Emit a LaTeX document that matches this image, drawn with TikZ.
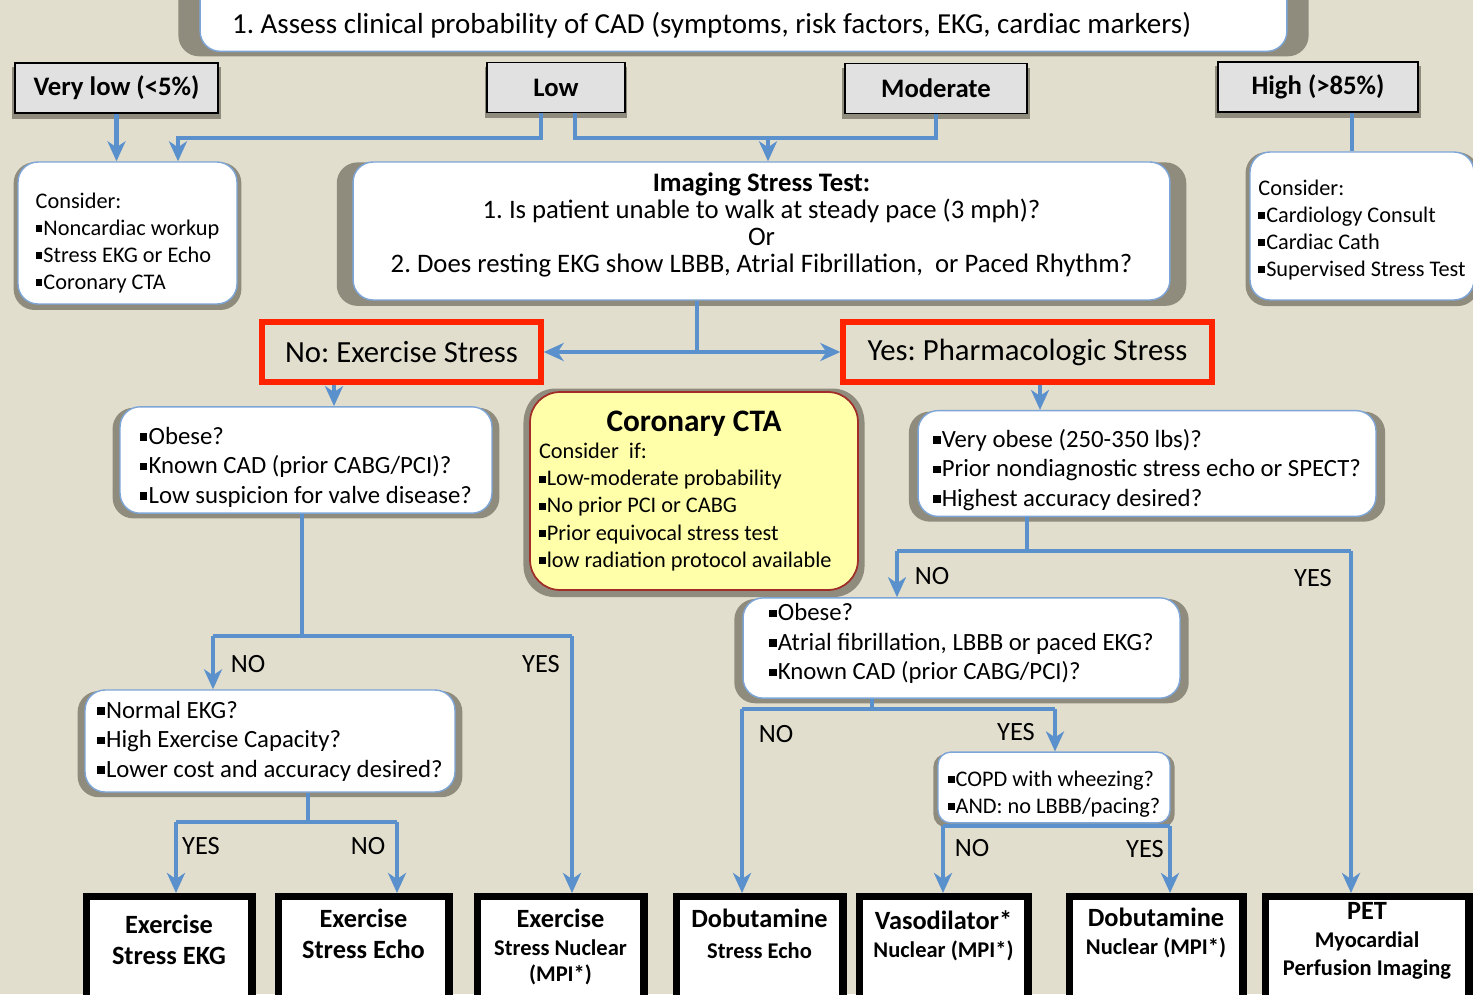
\documentclass[tikz,border=0pt]{standalone}
\usepackage{fontspec}
\setmainfont{Carlito}
\usetikzlibrary{arrows.meta,shadows}
\definecolor{bg}{RGB}{225,222,205}
\definecolor{flowblue}{RGB}{90,145,205}
\definecolor{boxedge}{RGB}{125,165,215}
\definecolor{shade}{RGB}{143,140,126}
\definecolor{catgray}{RGB}{225,225,225}
\definecolor{alertred}{RGB}{255,35,0}
\definecolor{ctayellow}{RGB}{255,255,170}
\definecolor{ctaedge}{RGB}{160,45,40}
\newcommand{\bul}{\rule[0.3ex]{0.3em}{0.3em}\kern0.05em}
\newcommand{\subl}{\fontsize{12.8}{16}\selectfont}
\frenchspacing

\begin{document}
\begin{tikzpicture}[x=0.02cm,y=-0.02cm]
  \useasboundingbox (0,0) rectangle (1473,994);
  \fill [bg] (0,0) rectangle (1473,994);  % Hintergrund
  \tikzstyle{box}=[rectangle, rounded corners=0.4cm, draw=boxedge, line width=0.8pt, fill=white, align=left, general shadow={fill=shade, shadow scale=1.04, shadow yshift=-0.06cm}]
  \tikzstyle{level}=[rectangle, draw=black, line width=0.9pt, fill=catgray, minimum height=1cm, font=\bfseries\fontsize{15.2}{18}\selectfont, general shadow={fill=shade, shadow scale=1.03, shadow yshift=-0.1cm}]
  \tikzstyle{alert}=[rectangle, draw=alertred, line width=3.1pt, minimum height=1.2cm, font=\fontsize{17.5}{20}\selectfont]
  \tikzstyle{result}=[rectangle, draw=black, line width=4pt, fill=white, anchor=north, align=center, text depth=1.6cm, inner ysep=0.25cm, font=\bfseries\fontsize{15}{17.6}\selectfont]
  \tikzstyle{mixed}=[font=\bfseries\fontsize{15}{16}\selectfont]
  \tikzstyle{lbl}=[inner sep=0pt, font=\fontsize{15}{18}\selectfont]
  \tikzstyle{cons}=[font=\fontsize{12.7}{15.4}\selectfont]
  \tikzstyle{quest}=[font=\fontsize{14.1}{16.8}\selectfont]
  \tikzstyle{link}=[draw=flowblue, line width=2.3pt]
  \tikzstyle{flow}=[link, -{Stealth[length=0.4cm, width=0.36cm, inset=0.12cm]}]

  % Wahrscheinlichkeit
  \node[box, align=flush left, anchor=south, minimum width=21.74cm, text width=20.46cm, text height=1.4cm, text depth=0.2cm, inner xsep=0pt, inner ysep=0.16cm, font=\fontsize{16.5}{19}\selectfont] (assess) at (743.5,52)
    {1. Assess clinical probability of CAD (symptoms, risk factors, EKG, cardiac markers)};
  \node[level, minimum width=4.06cm] (verylow)  at (116.5,88) {Very low (<5\%)};
  \node[level, minimum width=2.76cm] (low)      at (556,87.5) {Low};
  \node[level, minimum width=3.64cm] (moderate) at (936,88.5) {Moderate};
  \node[level, minimum width=4.0cm]  (high)     at (1318,87)  {High (>85\%)};

  \node[box, cons, minimum width=4.38cm, minimum height=2.84cm] (vlcons) at (127.5,233)
    {\rule{0pt}{20pt}Consider:\\\bul Noncardiac workup\\\bul Stress EKG or Echo\\\bul Coronary CTA};
  \node[box, align=center, minimum width=16.34cm, minimum height=2.76cm, font=\fontsize{15.2}{15.5}\selectfont] (imaging) at (761.5,231)
    {\textbf{Imaging Stress Test:}\\1. Is patient unable to walk at steady pace (3 mph)?\\Or\\2. Does resting EKG show LBBB, Atrial Fibrillation,\ \ or Paced Rhythm?\rule[-9.5pt]{0pt}{0pt}};
  \node[box, cons, minimum width=4.48cm, minimum height=2.96cm] (highcons) at (1362,226)
    {\rule{0pt}{13pt}Consider:\\\bul Cardiology Consult\\\bul Cardiac Cath\\\bul Supervised Stress Test};

  \node[alert, minimum width=5.58cm] (nostress)  at (401.5,352)  {No: Exercise Stress};
  \node[alert, minimum width=7.38cm] (yesstress) at (1027.5,352) {Yes: Pharmacologic Stress};

  \node[box, cons, align=flush left, rounded corners=0.6cm, fill=ctayellow, draw=ctaedge, line width=1pt, text width=6.2cm, minimum width=6.56cm, minimum height=3.96cm, general shadow={fill=shade, shadow scale=1.035}] (cta) at (694,491)
    {{\centering\bfseries\fontsize{17.8}{21}\selectfont Coronary CTA\par}Consider\ \ if:\\\bul Low-moderate probability\\\bul No prior PCI or CABG\\\bul Prior equivocal stress test\\\bul low radiation protocol available};

  % Belastung
  \node[box, quest, minimum width=7.44cm, minimum height=2.08cm] (noq) at (306,460)
    {\rule{0pt}{18pt}\bul Obese?\\\bul Known CAD (prior CABG/PCI)?\\\bul Low suspicion for valve disease?};
  \node[box, quest, minimum width=7.4cm, minimum height=2.04cm] (ekgq) at (270,741)
    {\bul Normal EKG?\\\bul High Exercise Capacity?\\\bul Lower cost and accuracy desired?};
  \node[box, quest, minimum width=9.16cm, minimum height=1.94cm] (yesq) at (1147,463.5)
    {\rule{0pt}{17.5pt}\bul Very obese (250-350 lbs)?\\\bul Prior nondiagnostic stress echo or SPECT?\\\bul Highest accuracy desired?};
  \node[box, quest, minimum width=8.74cm, minimum height=1.92cm] (pharmq) at (961.5,648)
    {\bul Obese?\\\bul Atrial fibrillation, LBBB or paced EKG?\\\bul Known CAD (prior CABG/PCI)?\rule[-7pt]{0pt}{0pt}};
  \node[box, cons, rounded corners=0.25cm, minimum width=4.64cm, minimum height=1.3cm] (copdq) at (1054,787.5)
    {\rule{0pt}{16pt}\bul COPD with wheezing?\\\bul AND: no LBBB/pacing?};

  % Ergebnisse
  \node[result, minimum width=3.32cm, inner ysep=0.37cm] (bEKG) at (169,893) {Exercise\\Stress EKG};
  \node[result, minimum width=3.42cm] (bEcho)    at (363.5,893) {Exercise\\Stress Echo};
  \node[result, mixed, minimum width=3.34cm] (bNuc) at (560.5,893) {Exercise\\{\subl Stress Nuclear}\\[-1.5pt]{\subl (MPI*)}};
  \node[result, minimum width=3.34cm] (bDobEcho) at (759.5,893) {Dobutamine\\{\subl Stress Echo}};
  \node[result, mixed, minimum width=3.38cm, inner ysep=0.29cm] (bVaso) at (943.5,893) {Vasodilator*\\{\subl Nuclear (MPI*)}};
  \node[result, mixed, minimum width=3.48cm, inner ysep=0.23cm] (bDobNuc) at (1156,893) {Dobutamine\\{\subl Nuclear (MPI*)}};
  \node[result, mixed, minimum width=4.08cm, inner ysep=0.12cm] (bPET) at (1367,893) {PET\\{\subl Myocardial}\\{\subl Perfusion Imaging}};

  \node[lbl] (exnolbl)   at (248,664)  {NO};
  \node[lbl] (exyeslbl)  at (541,664)  {YES};
  \node[lbl] (ekgyeslbl) at (201,846)  {YES};
  \node[lbl] (ekgnolbl)  at (368,846)  {NO};
  \node[lbl] (phnolbl)   at (932,576)  {NO};
  \node[lbl] (phyeslbl)  at (1313,578) {YES};
  \node[lbl] (ph2nolbl)  at (776,734)  {NO};
  \node[lbl] (ph2yeslbl) at (1016,732) {YES};
  \node[lbl] (cpnolbl)   at (972,848)  {NO};
  \node[lbl] (cpyeslbl)  at (1145,849) {YES};

  \coordinate (lowmod)   at (768,138);
  \coordinate (vlin)     at ([xshift=1.01cm]vlcons.north);
  \coordinate (lowleft)  at ([xshift=-0.3cm]low.south);
  \coordinate (lowright) at ([xshift=0.38cm]low.south);
  \coordinate (hiout)    at ([xshift=0.68cm]high.south);
  \coordinate (split)    at (697,352);
  \coordinate (exdown)   at ([xshift=-1.35cm]nostress.south);
  \coordinate (exsplit)  at (302,636);
  \coordinate (exno)     at (213,636);
  \coordinate (exyes)    at (572,636);
  \coordinate (ekgsplit) at (308,822);
  \coordinate (ekgyes)   at (176,822);
  \coordinate (ekgno)    at (397,822);
  \coordinate (phdown)   at ([xshift=0.25cm]yesstress.south);
  \coordinate (phsplit)  at (1027,551);
  \coordinate (phno)     at (897,551);
  \coordinate (phyes)    at (1351,551);
  \coordinate (ph2split) at (872,709);
  \coordinate (ph2no)    at (742,709);
  \coordinate (ph2yes)   at (1055,709);
  \coordinate (cpno)     at (943,826);
  \coordinate (cpyes)    at (1170,826);

  \draw[flow] (verylow.south) -- (verylow.south |- vlcons.north);
  \draw[flow] (lowleft) |- (vlin |- lowmod) -- (vlin);
  \draw[link] (lowright) |- (moderate.south |- lowmod) -- (moderate.south);
  \draw[flow] (lowmod) -- (lowmod |- imaging.north);
  \draw[link] (hiout) -- (hiout |- highcons.north);

  \draw[link] (split |- imaging.south) -- (split);
  \draw[flow] (split) -- (nostress.east);
  \draw[flow] (split) -- (yesstress.west);

  \draw[flow] (exdown) -- (exdown |- noq.north);
  \draw[link] (exsplit |- noq.south) -- (exsplit);
  \draw[link] (exno) -- (exyes);
  \draw[flow] (exno) -- (exno |- ekgq.north);
  \draw[flow] (exyes) -- (exyes |- bNuc.north);
  \draw[link] (ekgsplit |- ekgq.south) -- (ekgsplit);
  \draw[link] (ekgyes) -- (ekgno);
  \draw[flow] (ekgyes) -- (ekgyes |- bEKG.north);
  \draw[flow] (ekgno) -- (ekgno |- bEcho.north);

  \draw[flow] (phdown) -- (phdown |- yesq.north);
  \draw[link] (phsplit |- yesq.south) -- (phsplit);
  \draw[link] (phno) -- (phyes);
  \draw[flow] (phno) -- (phno |- pharmq.north);
  \draw[flow] (phyes) -- (phyes |- bPET.north);
  \draw[link] (ph2split |- pharmq.south) -- (ph2split);
  \draw[link] (ph2no) -- (ph2yes);
  \draw[flow] (ph2no) -- (ph2no |- bDobEcho.north);
  \draw[flow] (ph2yes) -- (ph2yes |- copdq.north);
  \draw[link] (cpno) -- (cpyes);
  \draw[flow] (cpno) -- (cpno |- bVaso.north);
  \draw[flow] (cpyes) -- (cpyes |- bDobNuc.north);
\end{tikzpicture}
\end{document}
